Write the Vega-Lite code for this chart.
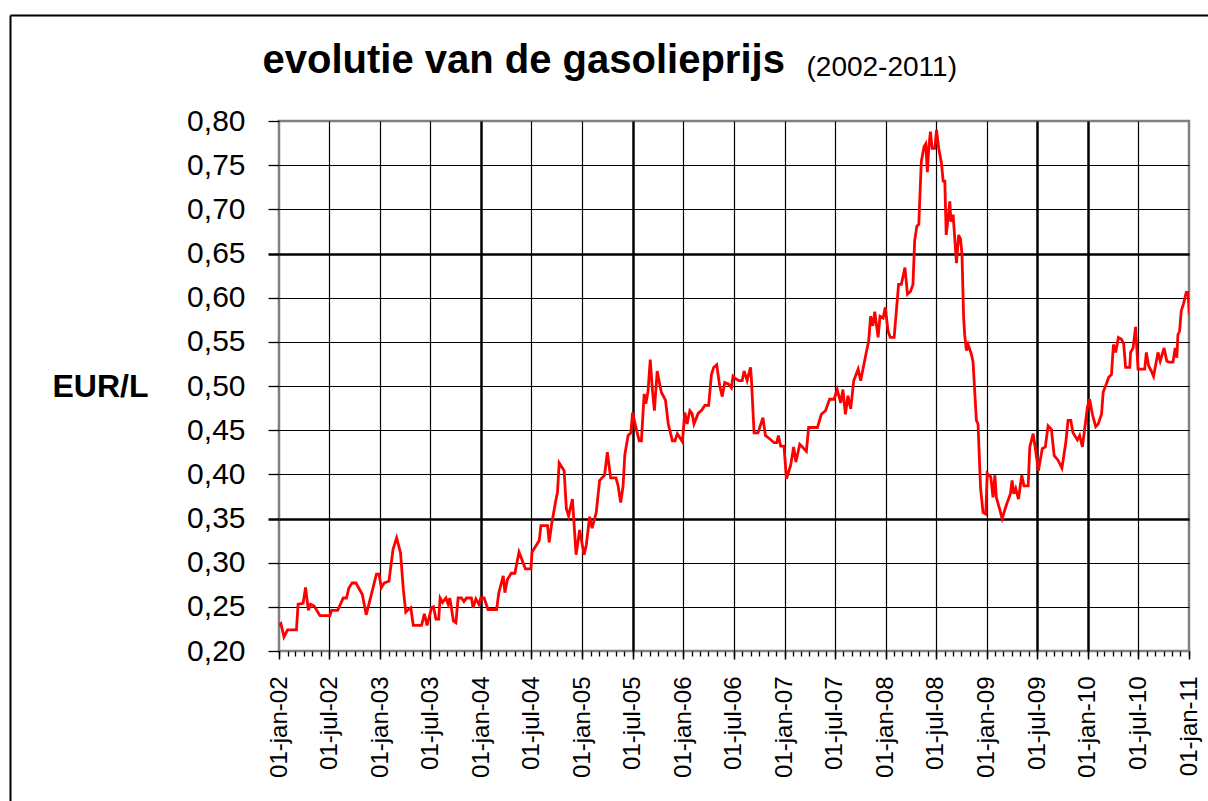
{
 "$schema": "https://vega.github.io/schema/vega-lite/v6.json",
 "width": 910,
 "height": 530,
 "autosize": {"type": "none"},
 "padding": {"left": 279, "top": 121, "right": 19, "bottom": 150},
 "background": "white",
 "config": {"font": "Liberation Sans", "view": {"stroke": "#808080", "strokeWidth": 2.5}},
 "data": {"values": [
  {"d":"2002-01-01","v":0.229},{"d":"2002-01-08","v":0.231},{"d":"2002-01-19","v":0.216},{"d":"2002-02-01","v":0.224},
  {"d":"2002-03-05","v":0.224},{"d":"2002-03-11","v":0.253},{"d":"2002-03-29","v":0.254},{"d":"2002-04-07","v":0.272},
  {"d":"2002-04-17","v":0.246},{"d":"2002-04-25","v":0.253},{"d":"2002-05-08","v":0.251},{"d":"2002-05-29","v":0.240},
  {"d":"2002-07-04","v":0.240},{"d":"2002-07-10","v":0.246},{"d":"2002-08-01","v":0.246},{"d":"2002-08-21","v":0.260},
  {"d":"2002-09-02","v":0.260},{"d":"2002-09-10","v":0.271},{"d":"2002-09-22","v":0.277},{"d":"2002-10-06","v":0.277},
  {"d":"2002-10-29","v":0.264},{"d":"2002-11-12","v":0.241},{"d":"2002-11-25","v":0.257},{"d":"2002-12-19","v":0.287},
  {"d":"2002-12-28","v":0.287},{"d":"2003-01-06","v":0.272},{"d":"2003-01-16","v":0.277},{"d":"2003-02-02","v":0.279},
  {"d":"2003-02-17","v":0.315},{"d":"2003-03-02","v":0.328},{"d":"2003-03-16","v":0.311},{"d":"2003-03-26","v":0.270},
  {"d":"2003-04-04","v":0.244},{"d":"2003-04-13","v":0.247},{"d":"2003-04-22","v":0.249},{"d":"2003-05-01","v":0.229},
  {"d":"2003-05-31","v":0.229},{"d":"2003-06-10","v":0.242},{"d":"2003-06-20","v":0.229},{"d":"2003-07-06","v":0.249},
  {"d":"2003-07-13","v":0.250},{"d":"2003-07-22","v":0.236},{"d":"2003-08-01","v":0.236},{"d":"2003-08-06","v":0.260},
  {"d":"2003-08-15","v":0.255},{"d":"2003-08-27","v":0.260},{"d":"2003-09-04","v":0.253},{"d":"2003-09-10","v":0.260},
  {"d":"2003-09-23","v":0.234},{"d":"2003-10-02","v":0.232},{"d":"2003-10-10","v":0.260},{"d":"2003-10-22","v":0.260},
  {"d":"2003-10-31","v":0.256},{"d":"2003-11-09","v":0.260},{"d":"2003-11-27","v":0.260},{"d":"2003-12-03","v":0.249},
  {"d":"2003-12-13","v":0.259},{"d":"2003-12-24","v":0.253},{"d":"2003-12-31","v":0.260},{"d":"2004-01-12","v":0.260},
  {"d":"2004-01-26","v":0.247},{"d":"2004-02-26","v":0.247},{"d":"2004-03-05","v":0.266},{"d":"2004-03-21","v":0.285},
  {"d":"2004-03-27","v":0.266},{"d":"2004-04-05","v":0.281},{"d":"2004-04-19","v":0.288},{"d":"2004-05-02","v":0.288},
  {"d":"2004-05-17","v":0.312},{"d":"2004-05-28","v":0.303},{"d":"2004-06-09","v":0.293},{"d":"2004-06-29","v":0.293},
  {"d":"2004-07-03","v":0.312},{"d":"2004-07-15","v":0.318},{"d":"2004-07-29","v":0.325},{"d":"2004-08-04","v":0.342},
  {"d":"2004-08-28","v":0.342},{"d":"2004-09-03","v":0.323},{"d":"2004-09-11","v":0.342},{"d":"2004-09-26","v":0.369},
  {"d":"2004-10-03","v":0.380},{"d":"2004-10-09","v":0.413},{"d":"2004-10-27","v":0.404},{"d":"2004-11-04","v":0.361},
  {"d":"2004-11-12","v":0.353},{"d":"2004-11-26","v":0.372},{"d":"2004-12-09","v":0.309},{"d":"2004-12-22","v":0.337},
  {"d":"2005-01-07","v":0.309},{"d":"2005-01-15","v":0.320},{"d":"2005-01-27","v":0.352},{"d":"2005-02-05","v":0.339},
  {"d":"2005-02-20","v":0.357},{"d":"2005-03-04","v":0.393},{"d":"2005-03-22","v":0.399},{"d":"2005-04-01","v":0.425},
  {"d":"2005-04-13","v":0.396},{"d":"2005-05-02","v":0.396},{"d":"2005-05-10","v":0.387},{"d":"2005-05-19","v":0.368},
  {"d":"2005-05-28","v":0.387},{"d":"2005-06-03","v":0.422},{"d":"2005-06-15","v":0.444},{"d":"2005-06-25","v":0.447},
  {"d":"2005-07-01","v":0.470},{"d":"2005-07-11","v":0.456},{"d":"2005-07-25","v":0.438},{"d":"2005-08-02","v":0.438},
  {"d":"2005-08-12","v":0.491},{"d":"2005-08-18","v":0.480},{"d":"2005-08-26","v":0.494},{"d":"2005-09-03","v":0.530},
  {"d":"2005-09-11","v":0.495},{"d":"2005-09-18","v":0.472},{"d":"2005-09-28","v":0.517},{"d":"2005-10-13","v":0.493},
  {"d":"2005-10-28","v":0.484},{"d":"2005-11-07","v":0.457},{"d":"2005-11-22","v":0.438},{"d":"2005-12-01","v":0.438},
  {"d":"2005-12-10","v":0.446},{"d":"2005-12-28","v":0.437},{"d":"2006-01-06","v":0.470},{"d":"2006-01-14","v":0.457},
  {"d":"2006-01-24","v":0.472},{"d":"2006-02-01","v":0.469},{"d":"2006-02-08","v":0.457},{"d":"2006-02-23","v":0.469},
  {"d":"2006-03-09","v":0.473},{"d":"2006-03-19","v":0.478},{"d":"2006-04-02","v":0.478},{"d":"2006-04-12","v":0.513},
  {"d":"2006-04-20","v":0.521},{"d":"2006-05-01","v":0.524},{"d":"2006-05-12","v":0.500},{"d":"2006-05-21","v":0.488},
  {"d":"2006-05-30","v":0.504},{"d":"2006-06-13","v":0.502},{"d":"2006-06-23","v":0.498},{"d":"2006-06-29","v":0.511},
  {"d":"2006-07-05","v":0.509},{"d":"2006-07-20","v":0.506},{"d":"2006-08-01","v":0.506},{"d":"2006-08-08","v":0.517},
  {"d":"2006-08-19","v":0.506},{"d":"2006-08-31","v":0.521},{"d":"2006-09-03","v":0.510},{"d":"2006-09-13","v":0.447},
  {"d":"2006-09-27","v":0.447},{"d":"2006-10-15","v":0.464},{"d":"2006-10-24","v":0.444},{"d":"2006-11-09","v":0.440},
  {"d":"2006-11-24","v":0.436},{"d":"2006-12-04","v":0.436},{"d":"2006-12-10","v":0.444},{"d":"2006-12-18","v":0.432},
  {"d":"2006-12-30","v":0.432},{"d":"2007-01-08","v":0.395},{"d":"2007-01-23","v":0.410},{"d":"2007-02-03","v":0.431},
  {"d":"2007-02-11","v":0.414},{"d":"2007-02-25","v":0.434},{"d":"2007-03-09","v":0.430},{"d":"2007-03-21","v":0.426},
  {"d":"2007-03-29","v":0.453},{"d":"2007-04-30","v":0.453},{"d":"2007-05-14","v":0.468},{"d":"2007-05-29","v":0.472},
  {"d":"2007-06-13","v":0.485},{"d":"2007-06-29","v":0.485},{"d":"2007-07-10","v":0.496},{"d":"2007-07-23","v":0.481},
  {"d":"2007-07-31","v":0.496},{"d":"2007-08-09","v":0.468},{"d":"2007-08-18","v":0.489},{"d":"2007-08-28","v":0.474},
  {"d":"2007-09-08","v":0.506},{"d":"2007-09-24","v":0.519},{"d":"2007-10-03","v":0.506},{"d":"2007-10-24","v":0.539},
  {"d":"2007-11-01","v":0.551},{"d":"2007-11-08","v":0.579},{"d":"2007-11-16","v":0.568},{"d":"2007-11-23","v":0.584},
  {"d":"2007-12-05","v":0.555},{"d":"2007-12-12","v":0.579},{"d":"2007-12-23","v":0.577},{"d":"2007-12-31","v":0.589},
  {"d":"2008-01-10","v":0.562},{"d":"2008-01-18","v":0.555},{"d":"2008-02-01","v":0.555},{"d":"2008-02-17","v":0.615},
  {"d":"2008-02-27","v":0.615},{"d":"2008-03-11","v":0.634},{"d":"2008-03-20","v":0.604},{"d":"2008-03-31","v":0.607},
  {"d":"2008-04-09","v":0.615},{"d":"2008-04-15","v":0.664},{"d":"2008-04-23","v":0.681},{"d":"2008-04-30","v":0.683},
  {"d":"2008-05-09","v":0.754},{"d":"2008-05-19","v":0.771},{"d":"2008-05-25","v":0.774},{"d":"2008-05-31","v":0.742},
  {"d":"2008-06-05","v":0.770},{"d":"2008-06-11","v":0.788},{"d":"2008-06-17","v":0.769},{"d":"2008-06-27","v":0.769},
  {"d":"2008-07-03","v":0.790},{"d":"2008-07-11","v":0.769},{"d":"2008-07-21","v":0.752},{"d":"2008-07-27","v":0.732},
  {"d":"2008-08-02","v":0.732},{"d":"2008-08-07","v":0.671},{"d":"2008-08-14","v":0.690},{"d":"2008-08-20","v":0.709},
  {"d":"2008-08-24","v":0.686},{"d":"2008-09-01","v":0.694},{"d":"2008-09-13","v":0.639},{"d":"2008-09-21","v":0.671},
  {"d":"2008-09-28","v":0.666},{"d":"2008-10-03","v":0.649},{"d":"2008-10-09","v":0.577},{"d":"2008-10-13","v":0.557},
  {"d":"2008-10-19","v":0.540},{"d":"2008-10-25","v":0.547},{"d":"2008-11-06","v":0.536},{"d":"2008-11-12","v":0.527},
  {"d":"2008-11-24","v":0.461},{"d":"2008-11-30","v":0.457},{"d":"2008-12-09","v":0.385},{"d":"2008-12-18","v":0.357},
  {"d":"2008-12-28","v":0.355},{"d":"2009-01-02","v":0.401},{"d":"2009-01-15","v":0.397},{"d":"2009-01-23","v":0.374},
  {"d":"2009-01-30","v":0.399},{"d":"2009-02-04","v":0.374},{"d":"2009-02-14","v":0.363},{"d":"2009-02-25","v":0.350},
  {"d":"2009-03-12","v":0.365},{"d":"2009-03-27","v":0.378},{"d":"2009-04-02","v":0.393},{"d":"2009-04-08","v":0.378},
  {"d":"2009-04-15","v":0.384},{"d":"2009-04-25","v":0.372},{"d":"2009-05-07","v":0.399},{"d":"2009-05-15","v":0.387},
  {"d":"2009-05-30","v":0.387},{"d":"2009-06-05","v":0.431},{"d":"2009-06-17","v":0.446},{"d":"2009-06-26","v":0.427},
  {"d":"2009-07-06","v":0.404},{"d":"2009-07-20","v":0.429},{"d":"2009-07-31","v":0.431},{"d":"2009-08-10","v":0.455},
  {"d":"2009-08-22","v":0.451},{"d":"2009-09-01","v":0.421},{"d":"2009-09-15","v":0.416},{"d":"2009-09-29","v":0.407},
  {"d":"2009-10-13","v":0.436},{"d":"2009-10-21","v":0.461},{"d":"2009-10-31","v":0.461},{"d":"2009-11-08","v":0.447},
  {"d":"2009-11-24","v":0.439},{"d":"2009-12-02","v":0.444},{"d":"2009-12-12","v":0.431},{"d":"2009-12-20","v":0.451},
  {"d":"2009-12-30","v":0.476},{"d":"2010-01-07","v":0.485},{"d":"2010-01-17","v":0.468},{"d":"2010-01-29","v":0.454},
  {"d":"2010-02-07","v":0.457},{"d":"2010-02-19","v":0.468},{"d":"2010-02-25","v":0.493},{"d":"2010-03-08","v":0.502},
  {"d":"2010-03-17","v":0.510},{"d":"2010-03-27","v":0.513},{"d":"2010-04-03","v":0.547},{"d":"2010-04-11","v":0.538},
  {"d":"2010-04-21","v":0.555},{"d":"2010-05-02","v":0.553},{"d":"2010-05-10","v":0.548},{"d":"2010-05-17","v":0.521},
  {"d":"2010-06-01","v":0.521},{"d":"2010-06-04","v":0.538},{"d":"2010-06-13","v":0.543},{"d":"2010-06-22","v":0.567},
  {"d":"2010-07-01","v":0.519},{"d":"2010-07-25","v":0.519},{"d":"2010-07-31","v":0.538},{"d":"2010-08-08","v":0.523},
  {"d":"2010-08-18","v":0.517},{"d":"2010-08-26","v":0.511},{"d":"2010-09-11","v":0.538},{"d":"2010-09-19","v":0.528},
  {"d":"2010-10-03","v":0.543},{"d":"2010-10-13","v":0.528},{"d":"2010-10-21","v":0.527},{"d":"2010-11-04","v":0.527},
  {"d":"2010-11-12","v":0.543},{"d":"2010-11-18","v":0.532},{"d":"2010-11-22","v":0.558},{"d":"2010-11-28","v":0.562},
  {"d":"2010-12-04","v":0.585},{"d":"2010-12-12","v":0.593},{"d":"2010-12-22","v":0.606},{"d":"2010-12-29","v":0.606},
  {"d":"2011-01-02","v":0.581},{"d":"2011-01-06","v":0.601}
 ]},
 "layer": [
  {
   "mark": {"type": "line", "color": "#ff0000", "strokeWidth": 2.8, "clip": true},
   "encoding": {
    "x": {"field": "d", "type": "temporal",
     "scale": {"domain": [{"year": 2002, "month": 1, "date": 1}, {"year": 2011, "month": 1, "date": 1}]},
     "axis": {"orient": "bottom",
      "values": [{"year":2002,"month":1,"date":1},{"year":2002,"month":7,"date":1},{"year":2003,"month":1,"date":1},{"year":2003,"month":7,"date":1},{"year":2004,"month":1,"date":1},{"year":2004,"month":7,"date":1},{"year":2005,"month":1,"date":1},{"year":2005,"month":7,"date":1},{"year":2006,"month":1,"date":1},{"year":2006,"month":7,"date":1},{"year":2007,"month":1,"date":1},{"year":2007,"month":7,"date":1},{"year":2008,"month":1,"date":1},{"year":2008,"month":7,"date":1},{"year":2009,"month":1,"date":1},{"year":2009,"month":7,"date":1},{"year":2010,"month":1,"date":1},{"year":2010,"month":7,"date":1},{"year":2011,"month":1,"date":1}],
      "labelExpr": "timeFormat(datum.value, '%d-') + lower(timeFormat(datum.value, '%b')) + timeFormat(datum.value, '-%y')",
      "labelAngle": 270, "labelAlign": "right", "labelBaseline": "middle",
      "labelFontSize": 24, "labelColor": "black", "labelPadding": 17,
      "labelOverlap": false, "labelFlush": false, "labelBound": false,
      "tickSize": 8, "tickColor": "black", "tickWidth": 1.5,
      "domain": false,
      "grid": true, "gridColor": "black",
      "gridWidth": {"condition": {"test": "(year(datum.value)==2004 && month(datum.value)==0) || (year(datum.value)==2005 && month(datum.value)==6) || (year(datum.value)==2009 && month(datum.value)==6) || (year(datum.value)==2010 && month(datum.value)==0)", "value": 2.5}, "value": 1.2},
      "gridOpacity": {"condition": {"test": "year(datum.value)==2002 && month(datum.value)==0 || year(datum.value)==2011", "value": 0}, "value": 1},
      "title": null}
    },
    "y": {"field": "v", "type": "quantitative",
     "scale": {"domain": [0.2, 0.8], "nice": false, "zero": false},
     "axis": {"orient": "left",
      "values": [0.2, 0.25, 0.3, 0.35, 0.4, 0.45, 0.5, 0.55, 0.6, 0.65, 0.7, 0.75, 0.8],
      "labelExpr": "replace(format(datum.value, '.2f'), '.', ',')",
      "labelFontSize": 30, "labelColor": "black", "labelPadding": 23,
      "tickSize": 11, "tickColor": "black",
      "tickWidth": {"condition": {"test": "abs(datum.value-0.65)<0.001 || abs(datum.value-0.35)<0.001", "value": 2.5}, "value": 1.3},
      "domain": false,
      "grid": true, "gridColor": "black",
      "gridWidth": {"condition": {"test": "abs(datum.value-0.65)<0.001 || abs(datum.value-0.35)<0.001", "value": 2.5}, "value": 1.2},
      "gridOpacity": {"condition": {"test": "datum.value < 0.21 || datum.value > 0.79", "value": 0}, "value": 1},
      "title": "EUR/L", "titleAngle": 0, "titleFontSize": 32, "titleFontWeight": "bold", "titleColor": "black",
      "titleX": -227, "titleY": 265, "titleAlign": "left", "titleBaseline": "middle"}
    }
   }
  },
  {
   "mark": {"type": "point", "opacity": 0},
   "encoding": {
    "x": {"field": "d", "type": "temporal",
     "scale": {"domain": [{"year": 2002, "month": 1, "date": 1}, {"year": 2011, "month": 1, "date": 1}]},
     "axis": {"orient": "top", "ticks": false, "labels": false, "domain": false, "grid": false,
      "title": "evolutie van de gasolieprijs", "titleFontSize": 40, "titleFontWeight": "bold", "titleColor": "black",
      "titleX": -17, "titleY": -49, "titleAlign": "left", "titleBaseline": "alphabetic"}
    },
    "y": {"field": "v", "type": "quantitative",
     "scale": {"range": [680, -106], "zero": false},
     "axis": {"orient": "left", "offset": 269, "domain": true, "domainColor": "black", "domainWidth": 2,
      "ticks": false, "labels": false, "grid": false, "title": null}
    }
   }
  },
  {
   "mark": {"type": "rule", "opacity": 0},
   "encoding": {
    "x": {"field": "d", "type": "temporal",
     "scale": {"range": [-269, 929]},
     "axis": {"orient": "top", "offset": 106, "domain": true, "domainColor": "black", "domainWidth": 2,
      "ticks": false, "labels": false, "grid": false, "title": null}
    }
   }
  },
  {
   "mark": {"type": "rule", "opacity": 0},
   "encoding": {
    "x": {"field": "d", "type": "temporal",
     "scale": {"domain": [{"year": 2002, "month": 1, "date": 1}, {"year": 2011, "month": 1, "date": 1}]},
     "axis": {"orient": "bottom", "tickCount": {"interval": "month", "step": 1},
      "tickSize": 5, "tickColor": "black", "tickWidth": 1.3,
      "labels": false, "domain": false, "grid": false,
      "title": "(2002-2011)", "titleFontSize": 28, "titleFontWeight": "normal", "titleColor": "black",
      "titleX": 527, "titleY": -576, "titleAlign": "left", "titleBaseline": "alphabetic"}
    }
   }
  }
 ],
 "resolve": {"scale": {"x": "independent", "y": "independent"}}
}
